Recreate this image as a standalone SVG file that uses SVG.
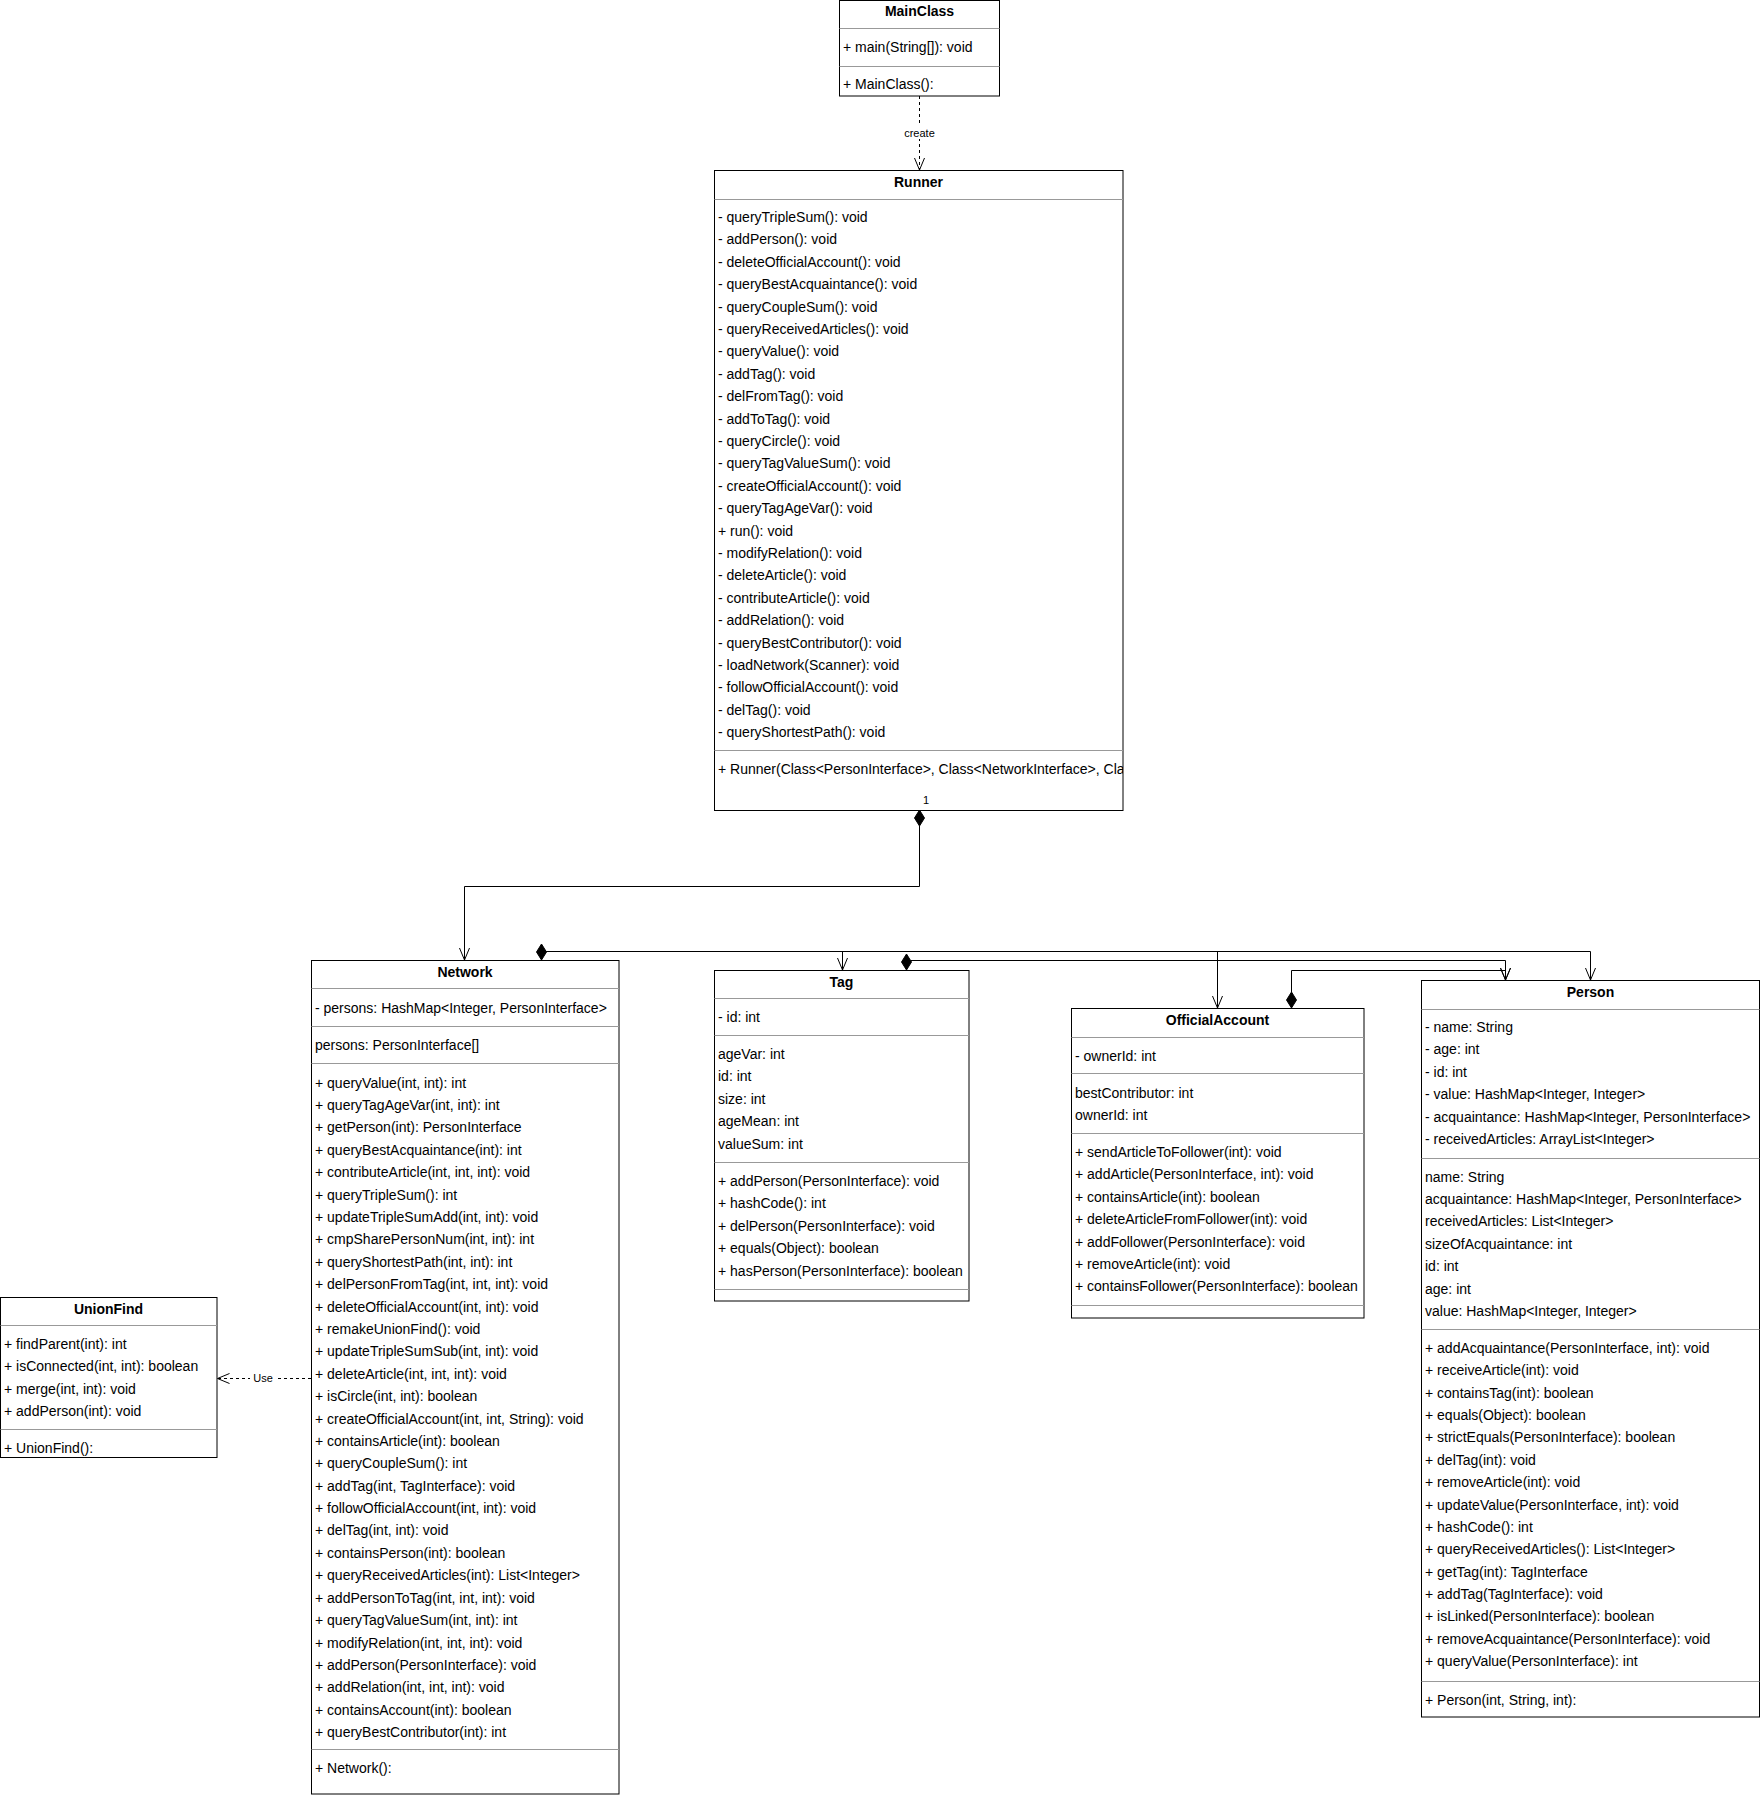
<svg xmlns="http://www.w3.org/2000/svg" width="1761" height="1795" viewBox="0 0 1761 1795">
<style>
.box{fill:#fff;stroke:#000;stroke-width:1}
.div{stroke:#999;stroke-width:1}
.t{font-family:"Liberation Sans",Arial,sans-serif;font-size:14px;fill:#000}
.h{font-family:"Liberation Sans",Arial,sans-serif;font-size:14px;font-weight:bold;fill:#000;text-anchor:middle}
.lbl{font-family:"Liberation Sans",Arial,sans-serif;font-size:11px;fill:#000;text-anchor:middle}
.ln{fill:none;stroke:#000;stroke-width:1}
.dash{fill:none;stroke:#000;stroke-width:1;stroke-dasharray:3 3}
.dia{fill:#000;stroke:#000;stroke-width:1}
</style>
<defs>
<marker id="open" viewBox="0 0 14 12" refX="13" refY="6" markerWidth="14" markerHeight="12" markerUnits="userSpaceOnUse" orient="auto">
<path d="M1,1 L13,6 L1,11" fill="none" stroke="#000" stroke-width="1"/>
</marker>
<clipPath id="runClip"><rect x="714" y="170" width="409" height="640"/></clipPath>
</defs>
<rect width="1761" height="1795" fill="#fff"/>

<g id="MainClass">
<rect class="box" x="839.5" y="0.5" width="160" height="95.5"/>
<text class="h" x="919.5" y="16">MainClass</text>
<line class="div" x1="839.5" y1="28.5" x2="999.5" y2="28.5"/>
<text class="t" x="843" y="52">+ main(String[]): void</text>
<line class="div" x1="839.5" y1="66.5" x2="999.5" y2="66.5"/>
<text class="t" x="843" y="88.5">+ MainClass():</text>
</g>

<g id="Runner">
<rect class="box" x="714.5" y="170.5" width="408.5" height="640"/>
<text class="h" x="918.5" y="187">Runner</text>
<line class="div" x1="714.5" y1="199.5" x2="1123" y2="199.5"/>
<text class="t" x="718" y="222">
<tspan x="718">- queryTripleSum(): void</tspan>
<tspan x="718" dy="22.4">- addPerson(): void</tspan>
<tspan x="718" dy="22.4">- deleteOfficialAccount(): void</tspan>
<tspan x="718" dy="22.4">- queryBestAcquaintance(): void</tspan>
<tspan x="718" dy="22.4">- queryCoupleSum(): void</tspan>
<tspan x="718" dy="22.4">- queryReceivedArticles(): void</tspan>
<tspan x="718" dy="22.4">- queryValue(): void</tspan>
<tspan x="718" dy="22.4">- addTag(): void</tspan>
<tspan x="718" dy="22.4">- delFromTag(): void</tspan>
<tspan x="718" dy="22.4">- addToTag(): void</tspan>
<tspan x="718" dy="22.4">- queryCircle(): void</tspan>
<tspan x="718" dy="22.4">- queryTagValueSum(): void</tspan>
<tspan x="718" dy="22.4">- createOfficialAccount(): void</tspan>
<tspan x="718" dy="22.4">- queryTagAgeVar(): void</tspan>
<tspan x="718" dy="22.4">+ run(): void</tspan>
<tspan x="718" dy="22.4">- modifyRelation(): void</tspan>
<tspan x="718" dy="22.4">- deleteArticle(): void</tspan>
<tspan x="718" dy="22.4">- contributeArticle(): void</tspan>
<tspan x="718" dy="22.4">- addRelation(): void</tspan>
<tspan x="718" dy="22.4">- queryBestContributor(): void</tspan>
<tspan x="718" dy="22.4">- loadNetwork(Scanner): void</tspan>
<tspan x="718" dy="22.4">- followOfficialAccount(): void</tspan>
<tspan x="718" dy="22.4">- delTag(): void</tspan>
<tspan x="718" dy="22.4">- queryShortestPath(): void</tspan>
</text>
<line class="div" x1="714.5" y1="750.5" x2="1123" y2="750.5"/>
<text class="t" x="718" y="774" clip-path="url(#runClip)">+ Runner(Class&lt;PersonInterface&gt;, Class&lt;NetworkInterface&gt;, Class&lt;TagInterface&gt;)</text>
</g>

<g id="Network">
<rect class="box" x="311.5" y="960.5" width="307.5" height="833.5"/>
<text class="h" x="465" y="977">Network</text>
<line class="div" x1="311.5" y1="988.5" x2="619" y2="988.5"/>
<text class="t" x="315" y="1013">- persons: HashMap&lt;Integer, PersonInterface&gt;</text>
<line class="div" x1="311.5" y1="1026.5" x2="619" y2="1026.5"/>
<text class="t" x="315" y="1050">persons: PersonInterface[]</text>
<line class="div" x1="311.5" y1="1063.5" x2="619" y2="1063.5"/>
<text class="t" x="315" y="1087.5">
<tspan x="315">+ queryValue(int, int): int</tspan>
<tspan x="315" dy="22.4">+ queryTagAgeVar(int, int): int</tspan>
<tspan x="315" dy="22.4">+ getPerson(int): PersonInterface</tspan>
<tspan x="315" dy="22.4">+ queryBestAcquaintance(int): int</tspan>
<tspan x="315" dy="22.4">+ contributeArticle(int, int, int): void</tspan>
<tspan x="315" dy="22.4">+ queryTripleSum(): int</tspan>
<tspan x="315" dy="22.4">+ updateTripleSumAdd(int, int): void</tspan>
<tspan x="315" dy="22.4">+ cmpSharePersonNum(int, int): int</tspan>
<tspan x="315" dy="22.4">+ queryShortestPath(int, int): int</tspan>
<tspan x="315" dy="22.4">+ delPersonFromTag(int, int, int): void</tspan>
<tspan x="315" dy="22.4">+ deleteOfficialAccount(int, int): void</tspan>
<tspan x="315" dy="22.4">+ remakeUnionFind(): void</tspan>
<tspan x="315" dy="22.4">+ updateTripleSumSub(int, int): void</tspan>
<tspan x="315" dy="22.4">+ deleteArticle(int, int, int): void</tspan>
<tspan x="315" dy="22.4">+ isCircle(int, int): boolean</tspan>
<tspan x="315" dy="22.4">+ createOfficialAccount(int, int, String): void</tspan>
<tspan x="315" dy="22.4">+ containsArticle(int): boolean</tspan>
<tspan x="315" dy="22.4">+ queryCoupleSum(): int</tspan>
<tspan x="315" dy="22.4">+ addTag(int, TagInterface): void</tspan>
<tspan x="315" dy="22.4">+ followOfficialAccount(int, int): void</tspan>
<tspan x="315" dy="22.4">+ delTag(int, int): void</tspan>
<tspan x="315" dy="22.4">+ containsPerson(int): boolean</tspan>
<tspan x="315" dy="22.4">+ queryReceivedArticles(int): List&lt;Integer&gt;</tspan>
<tspan x="315" dy="22.4">+ addPersonToTag(int, int, int): void</tspan>
<tspan x="315" dy="22.4">+ queryTagValueSum(int, int): int</tspan>
<tspan x="315" dy="22.4">+ modifyRelation(int, int, int): void</tspan>
<tspan x="315" dy="22.4">+ addPerson(PersonInterface): void</tspan>
<tspan x="315" dy="22.4">+ addRelation(int, int, int): void</tspan>
<tspan x="315" dy="22.4">+ containsAccount(int): boolean</tspan>
<tspan x="315" dy="22.4">+ queryBestContributor(int): int</tspan>
</text>
<line class="div" x1="311.5" y1="1749.5" x2="619" y2="1749.5"/>
<text class="t" x="315" y="1773">+ Network():</text>
</g>

<g id="UnionFind">
<rect class="box" x="0.5" y="1297.5" width="216.5" height="160"/>
<text class="h" x="108.5" y="1314">UnionFind</text>
<line class="div" x1="0.5" y1="1325.5" x2="217" y2="1325.5"/>
<text class="t" x="4" y="1349">
<tspan x="4">+ findParent(int): int</tspan>
<tspan x="4" dy="22.4">+ isConnected(int, int): boolean</tspan>
<tspan x="4" dy="22.4">+ merge(int, int): void</tspan>
<tspan x="4" dy="22.4">+ addPerson(int): void</tspan>
</text>
<line class="div" x1="0.5" y1="1429.5" x2="217" y2="1429.5"/>
<text class="t" x="4" y="1452.5">+ UnionFind():</text>
</g>

<g id="Tag">
<rect class="box" x="714.5" y="970.5" width="254.5" height="330.5"/>
<text class="h" x="841.5" y="987">Tag</text>
<line class="div" x1="714.5" y1="998.5" x2="969" y2="998.5"/>
<text class="t" x="718" y="1022">- id: int</text>
<line class="div" x1="714.5" y1="1035.5" x2="969" y2="1035.5"/>
<text class="t" x="718" y="1059">
<tspan x="718">ageVar: int</tspan>
<tspan x="718" dy="22.4">id: int</tspan>
<tspan x="718" dy="22.4">size: int</tspan>
<tspan x="718" dy="22.4">ageMean: int</tspan>
<tspan x="718" dy="22.4">valueSum: int</tspan>
</text>
<line class="div" x1="714.5" y1="1162.5" x2="969" y2="1162.5"/>
<text class="t" x="718" y="1186">
<tspan x="718">+ addPerson(PersonInterface): void</tspan>
<tspan x="718" dy="22.4">+ hashCode(): int</tspan>
<tspan x="718" dy="22.4">+ delPerson(PersonInterface): void</tspan>
<tspan x="718" dy="22.4">+ equals(Object): boolean</tspan>
<tspan x="718" dy="22.4">+ hasPerson(PersonInterface): boolean</tspan>
</text>
<line class="div" x1="714.5" y1="1289.5" x2="969" y2="1289.5"/>
</g>

<g id="OfficialAccount">
<rect class="box" x="1071.5" y="1008.5" width="292.5" height="309.5"/>
<text class="h" x="1217.5" y="1025">OfficialAccount</text>
<line class="div" x1="1071.5" y1="1037.5" x2="1364" y2="1037.5"/>
<text class="t" x="1075" y="1061">- ownerId: int</text>
<line class="div" x1="1071.5" y1="1073.5" x2="1364" y2="1073.5"/>
<text class="t" x="1075" y="1097.5">
<tspan x="1075">bestContributor: int</tspan>
<tspan x="1075" dy="22.4">ownerId: int</tspan>
</text>
<line class="div" x1="1071.5" y1="1133.5" x2="1364" y2="1133.5"/>
<text class="t" x="1075" y="1157">
<tspan x="1075">+ sendArticleToFollower(int): void</tspan>
<tspan x="1075" dy="22.4">+ addArticle(PersonInterface, int): void</tspan>
<tspan x="1075" dy="22.4">+ containsArticle(int): boolean</tspan>
<tspan x="1075" dy="22.4">+ deleteArticleFromFollower(int): void</tspan>
<tspan x="1075" dy="22.4">+ addFollower(PersonInterface): void</tspan>
<tspan x="1075" dy="22.4">+ removeArticle(int): void</tspan>
<tspan x="1075" dy="22.4">+ containsFollower(PersonInterface): boolean</tspan>
</text>
<line class="div" x1="1071.5" y1="1305.5" x2="1364" y2="1305.5"/>
</g>

<g id="Person">
<rect class="box" x="1421.5" y="980.5" width="338" height="736.5"/>
<text class="h" x="1590.5" y="997">Person</text>
<line class="div" x1="1421.5" y1="1009.5" x2="1759.5" y2="1009.5"/>
<text class="t" x="1425" y="1032">
<tspan x="1425">- name: String</tspan>
<tspan x="1425" dy="22.4">- age: int</tspan>
<tspan x="1425" dy="22.4">- id: int</tspan>
<tspan x="1425" dy="22.4">- value: HashMap&lt;Integer, Integer&gt;</tspan>
<tspan x="1425" dy="22.4">- acquaintance: HashMap&lt;Integer, PersonInterface&gt;</tspan>
<tspan x="1425" dy="22.4">- receivedArticles: ArrayList&lt;Integer&gt;</tspan>
</text>
<line class="div" x1="1421.5" y1="1158.5" x2="1759.5" y2="1158.5"/>
<text class="t" x="1425" y="1181.5">
<tspan x="1425">name: String</tspan>
<tspan x="1425" dy="22.4">acquaintance: HashMap&lt;Integer, PersonInterface&gt;</tspan>
<tspan x="1425" dy="22.4">receivedArticles: List&lt;Integer&gt;</tspan>
<tspan x="1425" dy="22.4">sizeOfAcquaintance: int</tspan>
<tspan x="1425" dy="22.4">id: int</tspan>
<tspan x="1425" dy="22.4">age: int</tspan>
<tspan x="1425" dy="22.4">value: HashMap&lt;Integer, Integer&gt;</tspan>
</text>
<line class="div" x1="1421.5" y1="1329.5" x2="1759.5" y2="1329.5"/>
<text class="t" x="1425" y="1352.7">
<tspan x="1425">+ addAcquaintance(PersonInterface, int): void</tspan>
<tspan x="1425" dy="22.4">+ receiveArticle(int): void</tspan>
<tspan x="1425" dy="22.4">+ containsTag(int): boolean</tspan>
<tspan x="1425" dy="22.4">+ equals(Object): boolean</tspan>
<tspan x="1425" dy="22.4">+ strictEquals(PersonInterface): boolean</tspan>
<tspan x="1425" dy="22.4">+ delTag(int): void</tspan>
<tspan x="1425" dy="22.4">+ removeArticle(int): void</tspan>
<tspan x="1425" dy="22.4">+ updateValue(PersonInterface, int): void</tspan>
<tspan x="1425" dy="22.4">+ hashCode(): int</tspan>
<tspan x="1425" dy="22.4">+ queryReceivedArticles(): List&lt;Integer&gt;</tspan>
<tspan x="1425" dy="22.4">+ getTag(int): TagInterface</tspan>
<tspan x="1425" dy="22.4">+ addTag(TagInterface): void</tspan>
<tspan x="1425" dy="22.4">+ isLinked(PersonInterface): boolean</tspan>
<tspan x="1425" dy="22.4">+ removeAcquaintance(PersonInterface): void</tspan>
<tspan x="1425" dy="22.4">+ queryValue(PersonInterface): int</tspan>
</text>
<line class="div" x1="1421.5" y1="1681.5" x2="1759.5" y2="1681.5"/>
<text class="t" x="1425" y="1705">+ Person(int, String, int):</text>
</g>

<g id="connectors">
<path class="dash" d="M919.5,96 V170" marker-end="url(#open)"/>
<rect x="900" y="126" width="39" height="13" fill="#fff"/>
<text class="lbl" x="919.5" y="137">create</text>

<polygon class="dia" points="919.5,810 924.5,818 919.5,826 914.5,818"/>
<path class="ln" d="M919.5,826 V886.5 H464.5 V960" marker-end="url(#open)"/>
<text class="lbl" x="926" y="804">1</text>

<polygon class="dia" points="541.5,944 546.5,952 541.5,960 536.5,952"/>
<path class="ln" d="M546,951.5 H842.5 V970" marker-end="url(#open)"/>
<path class="ln" d="M546,951.5 H1217.5 V1008" marker-end="url(#open)"/>
<path class="ln" d="M546,951.5 H1590.5 V980" marker-end="url(#open)"/>

<polygon class="dia" points="906.5,954 911.5,962 906.5,970 901.5,962"/>
<path class="ln" d="M911,960.5 H1505.5 V980" marker-end="url(#open)"/>

<polygon class="dia" points="1291.5,992 1296.5,1000 1291.5,1008 1286.5,1000"/>
<path class="ln" d="M1291.5,992 V970.5 H1505.5 V980" marker-end="url(#open)"/>

<path class="dash" d="M311,1378.5 H217.5" marker-end="url(#open)"/>
<rect x="250" y="1371" width="27" height="14" fill="#fff"/>
<text class="lbl" x="263" y="1382">Use</text>
</g>
</svg>
